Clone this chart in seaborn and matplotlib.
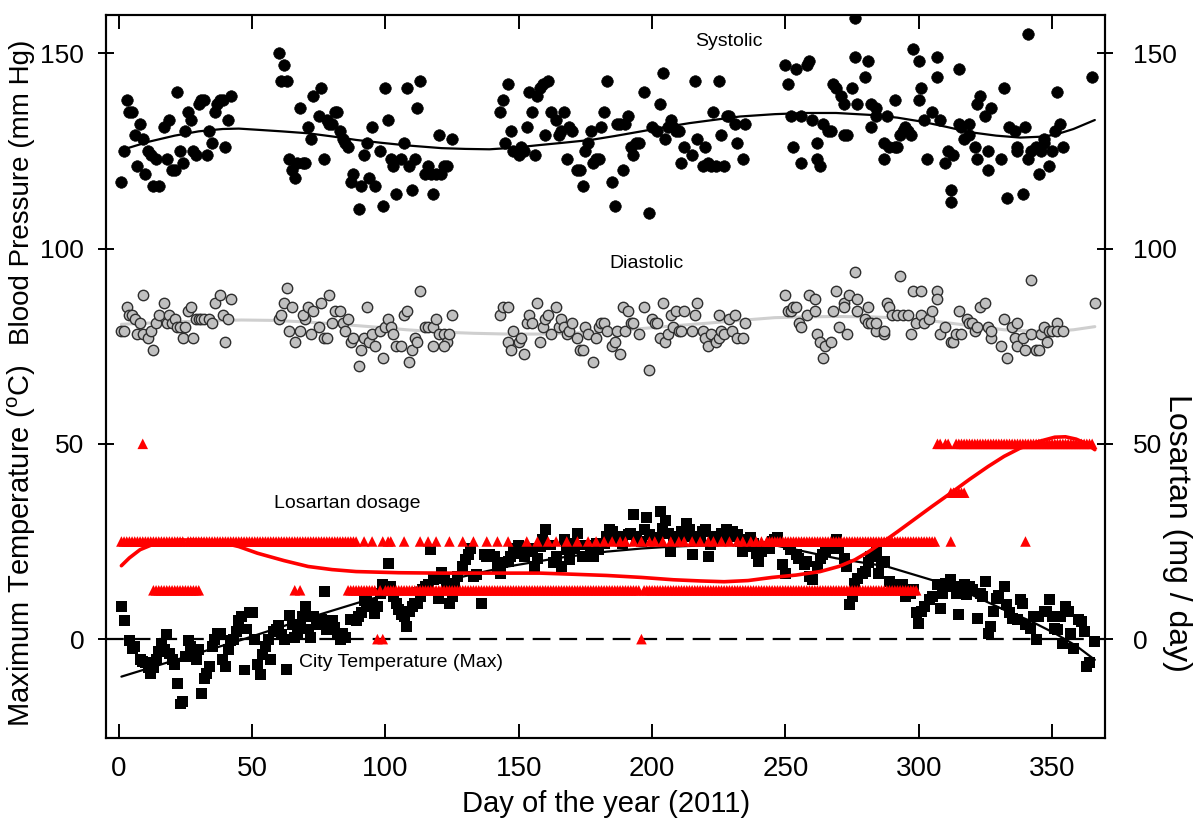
import matplotlib
matplotlib.use("Agg")
import matplotlib.pyplot as plt
import seaborn as sns

# ---------------------------------------------------------------------------
# Data (day of year 2011)
# ---------------------------------------------------------------------------

# Systolic blood pressure (mm Hg)
sys_days = [1, 2, 3, 4, 5, 6, 7, 8, 9, 10, 11, 12, 14, 13, 15, 17, 18, 19, 20, 21,
            22, 23, 24, 25, 26, 27, 28, 29, 30, 31, 32, 33, 34, 35, 36, 37, 38, 39, 40, 41,
            42, 60, 62, 61, 63, 64, 65, 66, 67, 69, 70, 68, 71, 72, 73, 75, 76, 77, 78, 79,
            80, 81, 82, 83, 84, 85, 86, 87, 88, 90, 91, 92, 93, 94, 96, 95, 98, 99, 100, 101,
            102, 103, 104, 106, 107, 108, 109, 110, 111, 112, 113, 115, 116, 117, 119, 118, 120, 122, 123, 121,
            125, 143, 144, 146, 145, 147, 148, 150, 151, 152, 153, 154, 157, 158, 159, 161, 155, 156, 160, 162,
            164, 165, 166, 167, 168, 169, 170, 172, 173, 174, 175, 176, 178, 179, 180, 177, 181, 182, 183, 185,
            186, 187, 188, 190, 191, 189, 192, 193, 194, 195, 197, 199, 200, 202, 203, 204, 205, 206, 207, 208,
            209, 210, 211, 212, 215, 217, 216, 219, 220, 221, 222, 224, 227, 223, 225, 226, 228, 229, 231, 232,
            234, 235,
            250, 251, 252, 253, 254, 256, 256, 258, 259, 260, 262, 262, 263, 264, 266, 267, 268, 269, 271, 272,
            272, 273, 275, 276, 277, 280, 281, 282, 282, 284, 284, 287, 287, 288, 289, 291, 291, 292, 293, 294,
            295, 296, 297, 298, 300, 300, 301, 302, 303, 305, 307, 307, 308, 310, 311, 312, 312, 313, 315, 315,
            316, 317, 319, 319, 321, 322, 323, 322, 325, 326, 326, 327, 331, 332, 333, 334, 336, 337, 337, 339,
            340, 341, 341, 342, 344, 345, 346, 347, 347, 349, 350, 351, 352, 353, 354, 365, 276]
sys_vals = [117, 125, 138, 135, 135, 129, 121, 132, 128, 119, 125, 124, 123, 116, 116, 131, 123, 133, 120, 120,
            140, 125, 122, 130, 135, 133, 125, 124, 137, 138, 138, 124, 130, 127, 135, 137, 138, 138, 126, 133,
            139, 150, 147, 143, 143, 123, 120, 118, 122, 122, 122, 136, 131, 128, 139, 134, 141, 123, 133, 132,
            132, 135, 135, 130, 128, 127, 126, 117, 119, 110, 116, 124, 127, 118, 116, 131, 125, 111, 141, 133,
            123, 121, 114, 123, 127, 141, 121, 115, 123, 136, 143, 119, 121, 119, 119, 114, 129, 121, 121, 119,
            128, 135, 138, 142, 127, 130, 125, 124, 126, 125, 131, 140, 139, 141, 142, 143, 135, 124, 129, 135,
            133, 129, 130, 135, 123, 131, 130, 120, 120, 116, 125, 127, 122, 123, 123, 130, 131, 135, 143, 117,
            111, 132, 132, 132, 134, 120, 126, 124, 127, 127, 140, 109, 131, 130, 137, 145, 128, 131, 133, 131,
            130, 130, 122, 126, 124, 128, 143, 121, 126, 122, 121, 121, 121, 135, 143, 129, 134, 134, 132, 127,
            123, 132,
            147, 142, 134, 126, 146, 134, 122, 147, 148, 133, 127, 123, 121, 132, 130, 130, 142, 141, 139, 137,
            129, 129, 141, 149, 137, 144, 148, 131, 137, 136, 134, 127, 123, 134, 126, 138, 126, 126, 129, 130,
            131, 130, 129, 151, 138, 148, 141, 133, 123, 135, 149, 144, 133, 122, 125, 112, 115, 124, 132, 146,
            131, 128, 132, 129, 126, 123, 139, 137, 134, 125, 120, 136, 123, 141, 113, 131, 130, 125, 126, 114,
            131, 123, 155, 125, 126, 119, 125, 127, 128, 121, 125, 130, 140, 132, 126, 144, 159]

# Diastolic blood pressure (mm Hg)
dia_days = [1, 2, 3, 4, 5, 6, 8, 7, 9, 9, 11, 12, 13, 14, 15, 17, 18, 19, 20, 21,
            22, 23, 25, 24, 28, 26, 27, 29, 30, 31, 32, 34, 35, 36, 38, 39, 41, 42, 40,
            63, 60, 61, 62, 65, 64, 68, 66, 72, 70, 69, 71, 73, 75, 76, 77, 78, 79, 80, 81,
            83, 84, 85, 86, 87, 88, 91, 90, 92, 93, 94, 95, 96, 98, 99, 100, 101, 102, 103, 104,
            106, 107, 108, 109, 110, 111, 112, 113, 115, 116, 118, 119, 118, 120, 122, 123, 122, 124, 125,
            143, 144, 146, 146, 147, 148, 150, 151, 152, 153, 154, 155, 157, 158, 159, 160, 161, 162, 164,
            165, 166, 167, 168, 169, 170, 172, 173, 174, 175, 176, 178, 179, 180, 181, 182, 183, 185, 186,
            187, 188, 189, 190, 191, 192, 193, 195, 197, 199, 200, 201, 202, 203, 204, 205, 206, 207, 208,
            209, 210, 211, 212, 215, 216, 217, 219, 220, 221, 222, 224, 225, 225, 226, 227, 229, 230, 231,
            232, 234, 235,
            250, 251, 252, 253, 254, 255, 256, 258, 259, 261, 261, 262, 263, 264, 265, 267, 268, 269, 270,
            272, 272, 273, 274, 276, 277, 277, 280, 281, 281, 282, 284, 284, 287, 287, 288, 289, 290, 292,
            293, 294, 296, 297, 298, 299, 301, 301, 302, 304, 305, 307, 307, 308, 310, 312, 313, 314, 315,
            316, 318, 319, 320, 321, 322, 323, 325, 326, 327, 327, 331, 332, 333, 335, 336, 337, 337, 339,
            340, 342, 342, 344, 345, 346, 347, 348, 349, 350, 352, 352, 354, 366]
dia_vals = [79, 79, 85, 83, 83, 82, 81, 78, 78, 88, 77, 79, 74, 81, 83, 86, 81, 83, 81, 82,
            80, 80, 80, 77, 77, 84, 85, 82, 82, 82, 82, 82, 81, 86, 88, 83, 82, 87, 76,
            90, 82, 83, 86, 85, 79, 79, 76, 78, 82, 83, 85, 84, 80, 86, 77, 77, 88, 81, 84,
            84, 81, 79, 82, 76, 77, 74, 70, 77, 85, 76, 78, 75, 79, 72, 80, 82, 80, 78, 75,
            75, 83, 84, 71, 74, 77, 76, 89, 80, 80, 80, 82, 75, 78, 78, 76, 75, 78, 83,
            83, 85, 85, 76, 74, 79, 76, 77, 73, 81, 83, 81, 86, 76, 80, 82, 83, 78, 85,
            80, 82, 80, 78, 79, 81, 77, 74, 74, 80, 78, 71, 77, 80, 81, 81, 79, 75, 76,
            79, 73, 85, 79, 84, 81, 81, 78, 85, 69, 82, 81, 81, 77, 86, 76, 78, 83, 80,
            84, 79, 79, 84, 79, 83, 86, 79, 77, 75, 78, 76, 77, 83, 79, 78, 82, 79, 83,
            77, 77, 81,
            88, 84, 84, 85, 85, 81, 80, 83, 88, 84, 87, 78, 76, 72, 75, 76, 84, 89, 80,
            86, 85, 78, 88, 94, 84, 87, 82, 85, 81, 81, 79, 81, 78, 79, 86, 85, 83, 83,
            93, 83, 83, 78, 89, 81, 83, 89, 81, 82, 84, 89, 87, 78, 80, 76, 76, 78, 84,
            78, 82, 81, 81, 79, 80, 85, 86, 80, 77, 79, 75, 82, 72, 80, 77, 75, 81, 77,
            74, 92, 78, 74, 74, 78, 80, 76, 79, 79, 81, 79, 79, 86]

# City maximum temperature (deg C)
temp_days = [1, 2, 4, 5, 6, 8, 9, 10, 11, 12, 13, 14, 15, 16, 17, 18, 19, 20, 21, 22,
             23, 24, 25, 26, 27, 28, 29, 30, 31, 32, 33, 34, 35, 36, 37, 38, 39, 40, 41, 42,
             43, 44, 45, 46, 47, 48, 49, 50, 51, 52, 53, 54, 55, 56, 57, 58, 59, 60, 61, 62,
             63, 64, 65, 66, 67, 68, 69, 70, 71, 72, 73, 74, 75, 76, 77, 78, 79, 80, 81, 82,
             83, 84, 85, 87, 88, 89, 90, 91, 92, 93, 94, 95, 96, 97, 98, 99, 100, 101, 102, 103,
             104, 105, 106, 107, 108, 109, 110, 111, 112, 113, 114, 115, 116, 117, 118, 119, 120, 121, 122, 123,
             124, 125, 126, 127, 129, 130, 131, 132, 133, 134, 136, 137, 138, 139, 141, 142, 143, 144, 146, 147,
             148, 149, 150, 151, 152, 154, 155, 156, 157, 158, 159, 160, 162, 163, 164, 166, 167, 168, 169, 170,
             171, 172, 173, 174, 176, 177, 178, 179, 180, 182, 183, 184, 185, 186, 187, 189, 191, 192, 193, 194,
             196, 197, 198, 199, 201, 202, 203, 204, 205, 206, 207, 208, 209, 210, 211, 212, 213, 214, 215, 216,
             217, 218, 219, 220, 221, 222, 223, 224, 226, 227, 228, 229, 230, 231, 232, 233, 234, 235, 236, 237,
             238, 239, 240, 241, 242, 244, 245, 246, 247, 249, 250, 251, 252, 254, 255, 257, 258, 259, 260, 262,
             263, 264, 265, 267, 268, 269, 270, 272, 273, 274, 275, 276, 277, 279, 280, 281, 282, 284, 285, 286,
             287, 289, 290, 292, 294, 295, 297, 298, 299, 300, 301, 302, 304, 305, 307, 308, 309, 310, 312, 313,
             314, 315, 317, 318, 319, 320, 322, 323, 324, 325, 326, 327, 328, 329, 330, 332, 333, 334, 335, 337,
             338, 339, 340, 342, 343, 344, 345, 347, 348, 349, 350, 351, 352, 353, 354, 355, 356, 357, 358, 360,
             361, 362, 363, 364, 366]
temp_vals = [8.4, 4.8, -0.3, -2.3, -1.9, -5.1, -5.7, -6.1, -7.2, -8.7, -7.2, -5.3, -3.2, -1.0, -2.7, 1.1, -3.6, -5.3, -6.6, -11.3,
             -16.6, -16.0, -4.4, -0.3, -1.9, -3.4, -5.3, -2.6, -14.0, -10.0, -8.7, -7.0, -2.0, -0.2, 1.4, 1.5, -5.3, -7.0, -2.7, -0.3,
             0.0, 2.0, 4.8, 5.8, -7.9, 2.6, 6.7, 6.8, -0.2, -6.6, -9.1, -4.0, -1.9, -0.2, -5.3, 2.0, 2.6, 3.4, 1.1, 0.0,
             -7.7, 6.0, 3.7, 0.3, 1.4, 3.2, 5.8, 8.4, 2.6, 0.3, 5.8, 4.5, 3.7, 5.1, 12.2, 2.4, 3.1, 4.8, 3.1, 1.5,
             0.0, 1.4, 0.3, 5.0, 5.1, 4.8, 5.8, 6.7, 9.9, 9.6, 8.4, 9.2, 6.5, 8.4, 11.8, 13.9, 12.8, 19.3, 13.5, 10.9,
             9.2, 7.5, 6.2, 5.8, 3.2, 7.1, 8.4, 9.2, 9.0, 10.9, 12.8, 13.6, 13.9, 22.9, 15.2, 15.6, 10.5, 17.1, 15.6, 14.3,
             9.2, 10.9, 13.9, 16.0, 18.6, 20.3, 21.6, 23.3, 16.0, 16.5, 9.2, 21.6, 21.2, 21.6, 21.2, 18.6, 16.9, 19.5, 19.9, 21.2,
             23.3, 23.3, 24.1, 22.0, 21.2, 23.3, 22.4, 18.6, 20.7, 23.7, 25.4, 28.0, 24.1, 19.5, 21.2, 18.6, 25.4, 22.9, 20.3, 24.6,
             23.3, 27.1, 24.1, 21.2, 24.1, 23.3, 21.2, 24.6, 22.9, 24.6, 26.3, 28.0, 27.6, 25.4, 26.3, 24.6, 26.7, 27.1, 31.8, 26.3,
             25.0, 28.0, 31.2, 26.7, 25.9, 25.4, 32.7, 28.4, 30.4, 27.1, 22.4, 26.3, 25.0, 25.9, 27.6, 26.3, 29.7, 28.0, 21.6, 25.9,
             26.3, 25.4, 27.6, 28.0, 21.2, 24.1, 26.3, 25.4, 27.1, 25.4, 28.0, 26.3, 27.6, 26.3, 26.7, 25.0, 22.4, 25.4, 23.7, 25.9,
             24.6, 22.0, 19.9, 22.4, 23.7, 23.3, 25.0, 25.4, 25.9, 19.0, 16.9, 24.1, 22.9, 21.6, 20.7, 19.0, 19.9, 16.0, 15.2, 18.6,
             20.7, 21.6, 22.4, 23.3, 23.7, 25.4, 23.3, 20.7, 18.6, 8.8, 10.9, 14.3, 15.6, 16.9, 17.3, 19.5, 21.2, 22.4, 16.9, 19.5,
             19.9, 14.7, 13.9, 13.5, 13.9, 10.9, 11.8, 12.6, 6.7, 4.1, 7.1, 8.4, 10.1, 10.9, 13.9, 7.9, 11.8, 14.3, 15.2, 13.5,
             11.8, 6.2, 13.9, 11.3, 13.5, 12.6, 5.4, 11.8, 10.9, 14.7, 1.5, 3.2, 7.1, 10.5, 11.3, 13.5, 8.8, 6.7, 5.4, 5.0,
             10.1, 9.2, 3.7, 2.8, 5.8, -0.2, 5.8, 7.1, 7.1, 10.1, 5.8, 2.8, 2.4, 5.8, -1.0, 8.4, 7.1, 1.5, -2.3, 5.0,
             4.5, 2.0, -7.0, -6.1, -0.6]

# Losartan dosage (mg / day): days recorded at each dose level
los_0_days = [97, 99, 196]
los_12_days = [13, 14, 15, 16, 17, 18, 19, 20, 21, 22, 23, 24, 25, 26, 27, 28, 29, 30, 66, 68,
               86, 87, 88, 89, 90, 91, 92, 93, 94, 95, 96, 98, 100, 101, 102, 103, 104, 105, 106, 107,
               108, 109, 110, 111, 112, 113, 114, 115, 116, 117, 118, 119, 120, 121, 122, 123, 124, 125, 126, 127,
               128, 129, 130, 131, 132, 133, 134, 135, 136, 137, 138, 139, 140, 141, 142, 143, 144, 145, 146, 147,
               148, 149, 150, 151, 152, 153, 154, 155, 156, 157, 158, 159, 160, 161, 162, 163, 164, 165, 166, 167,
               168, 169, 170, 171, 172, 173, 174, 175, 176, 177, 178, 179, 180, 181, 182, 183, 184, 185, 186, 187,
               188, 189, 190, 191, 192, 193, 194, 195, 197, 198, 199, 200, 201, 202, 203, 204, 205, 206, 207, 208,
               209, 210, 211, 212, 213, 214, 215, 216, 217, 218, 219, 220, 221, 222, 223, 224, 225, 226, 227, 228,
               229, 230, 231, 232, 233, 234, 235, 236, 237, 238, 239, 240, 241, 242, 243, 244, 245, 246, 247, 248,
               249, 250, 251, 252, 253, 254, 255, 256, 257, 258, 259, 260, 261, 262, 263, 264, 265, 266, 267, 268,
               269, 270, 271, 272, 273, 274, 275, 276, 277, 278, 279, 280, 281, 282, 283, 284, 285, 286, 287, 288,
               289, 290, 291, 292, 293, 294, 295, 296, 297, 298, 299]
los_25_days = [1, 2, 3, 4, 5, 6, 7, 8, 9, 10, 11, 12, 13, 14, 15, 16, 17, 18, 19, 20,
               21, 22, 23, 24, 26, 27, 28, 29, 30, 31, 32, 33, 34, 35, 36, 37, 38, 39, 40, 41,
               42, 43, 44, 45, 46, 47, 48, 49, 50, 51, 52, 53, 54, 55, 56, 57, 58, 59, 60, 61,
               62, 63, 64, 65, 66, 67, 68, 69, 70, 71, 72, 73, 74, 75, 76, 77, 78, 79, 80, 81,
               82, 83, 84, 85, 86, 87, 88, 89, 92, 95, 99, 101, 102, 107, 113, 116, 119, 124, 129, 133,
               138, 142, 146, 153, 157, 161, 164, 168, 172, 176, 179, 182, 185, 188, 190, 193, 196, 199, 201, 204,
               207, 210, 212, 215, 218, 221, 223, 226, 229, 232, 234, 237, 239, 241, 243, 244, 245, 246, 247, 248,
               249, 250, 251, 252, 253, 254, 255, 256, 257, 258, 259, 260, 261, 262, 263, 264, 265, 266, 267, 268,
               269, 270, 271, 272, 273, 274, 275, 276, 277, 278, 279, 280, 281, 282, 283, 284, 285, 286, 287, 288,
               289, 290, 291, 292, 293, 294, 295, 296, 297, 298, 299, 300, 301, 302, 303, 304, 305, 306, 312, 340]
los_37_days = [312, 313, 314, 315, 316, 317]
los_50_days = [9, 307, 308, 310, 311, 314, 315, 316, 317, 318, 319, 320, 321, 322, 323, 324, 325, 326, 327, 328,
               329, 330, 331, 332, 333, 334, 335, 336, 337, 338, 339, 340, 341, 342, 343, 344, 345, 346, 347, 348,
               349, 350, 351, 352, 353, 354, 355, 356, 357, 358, 359, 360, 361, 362, 363, 364, 365]

# Smoothed trend curves as drawn on the chart
sys_fit_days = [1, 11, 21, 30, 39, 45, 52, 61, 71, 80, 89, 98, 108, 121, 130, 139, 148, 158, 167, 177, 186,
                196, 205, 214, 224, 233, 246, 258, 269, 282, 292, 301, 310, 319, 329, 338, 345, 351, 358, 366]
sys_fit_vals = [125.2, 127.3, 128.9, 130.0, 130.6, 130.7, 130.4, 130.0, 129.5, 128.7, 127.8, 127.1, 126.4, 125.7,
                125.5, 125.4, 125.8, 126.5, 127.1, 127.8, 128.8, 130.0, 131.1, 132.1, 133.0, 133.8, 134.4, 134.7,
                134.7, 134.2, 133.5, 132.5, 131.2, 129.8, 128.9, 128.4, 128.6, 129.1, 130.6, 132.9]
dia_fit_days = [1, 20, 46, 58, 70, 83, 96, 108, 121, 133, 146, 158, 170, 183, 196, 208, 221, 233, 246, 258, 269,
                282, 294, 307, 320, 332, 341, 350, 358, 366]
dia_fit_vals = [80.6, 81.2, 81.7, 81.6, 81.2, 80.6, 79.9, 79.2, 78.6, 78.3, 78.1, 78.1, 78.3, 78.8, 79.5, 80.2,
                80.9, 81.6, 82.3, 82.5, 82.6, 82.5, 82.2, 81.3, 80.2, 79.2, 78.9, 78.8, 79.2, 80.0]
temp_fit_days = [1, 21, 46, 71, 93, 108, 121, 134, 146, 165, 183, 196, 208, 220, 233, 244, 256, 269, 288, 307,
                 320, 332, 342, 351, 359, 366]
temp_fit_vals = [-9.6, -5.4, -0.2, 5.4, 10.0, 12.6, 14.7, 16.8, 18.6, 20.8, 22.4, 23.2, 23.7, 24.0, 24.1, 24.3,
                 22.6, 20.7, 18.6, 14.7, 11.3, 7.5, 4.6, 1.5, -1.7, -5.3]
los_fit_days = [1, 4, 8, 14, 19, 24, 31, 37, 45, 52, 62, 71, 80, 89, 105, 121, 140, 158, 171, 183, 196, 208,
                218, 227, 236, 245, 254, 263, 270, 276, 281, 286, 292, 298, 305, 312, 319, 326, 332, 338, 345,
                351, 355, 359, 363, 366]
los_fit_vals = [18.8, 20.8, 22.9, 24.6, 25.1, 25.4, 25.3, 25.0, 23.7, 22.0, 20.1, 18.6, 17.8, 17.3, 17.0, 16.9,
                16.9, 16.9, 16.6, 16.3, 15.8, 15.2, 14.9, 14.7, 15.0, 15.8, 16.4, 17.3, 18.6, 20.3, 22.3, 24.6,
                27.5, 30.5, 34.0, 37.4, 40.9, 44.2, 46.8, 48.9, 50.6, 51.7, 51.8, 51.2, 50.0, 48.5]

tick_values = [0, 50, 100, 150]

# ---------------------------------------------------------------------------
# Style
# ---------------------------------------------------------------------------
sns.set_style("white")
plt.rcParams['font.family'] = ['Liberation Sans', 'DejaVu Sans']
plt.rcParams['mathtext.fontset'] = 'custom'
plt.rcParams['mathtext.rm'] = 'Liberation Sans'
plt.rcParams['text.color'] = 'black'
plt.rcParams['axes.labelcolor'] = 'black'

RED = '#ff0000'

fig = plt.figure(figsize=(12.03, 8.25), dpi=100)
ax = fig.add_axes([0.0885, 0.1055, 0.830, 0.8764])
ax2 = ax.twinx()

# Temperature
sns.scatterplot(x=temp_days, y=temp_vals, marker='s', s=62, color='black',
                edgecolor='none', linewidth=0, ax=ax, zorder=2)
sns.lineplot(x=temp_fit_days, y=temp_fit_vals, color='black', linewidth=1.6,
             estimator=None, ax=ax, zorder=3)
ax.axhline(0, color='black', linewidth=1.6, linestyle=(0, (8, 4)), zorder=1)

# Blood pressure
sns.scatterplot(x=sys_days, y=sys_vals, marker='o', s=70, color='black',
                edgecolor='black', linewidth=0.4, ax=ax, zorder=2)
sns.lineplot(x=sys_fit_days, y=sys_fit_vals, color='black', linewidth=1.6,
             estimator=None, ax=ax, zorder=3)
sns.lineplot(x=dia_fit_days, y=dia_fit_vals, color='#cfcfcf', linewidth=2.2,
             estimator=None, ax=ax, zorder=1.5)
sns.scatterplot(x=dia_days, y=dia_vals, marker='o', s=56, color='#c0c0c0',
                edgecolor='#2e2e2e', linewidth=1.0, ax=ax, zorder=2)

# Losartan on the right axis
for days, dose in [(los_0_days, 0), (los_12_days, 12.5), (los_25_days, 25),
                   (los_37_days, 37.5), (los_50_days, 50)]:
    sns.scatterplot(x=days, y=[dose] * len(days), marker='^', s=58, color=RED,
                    edgecolor='none', linewidth=0, ax=ax2, zorder=2)
sns.lineplot(x=los_fit_days, y=los_fit_vals, color=RED, linewidth=2.6,
             estimator=None, ax=ax2, zorder=3)

# Axes limits and ticks
for a in (ax, ax2):
    a.set_xlim(-4.6, 369.8)
    a.set_ylim(-25.3, 159.8)
    a.set_yticks(tick_values)
    a.set_xlabel('')
    a.set_ylabel('')
    for sp in a.spines.values():
        sp.set_color('black')
        sp.set_linewidth(1.5)

ax.set_xticks([0, 50, 100, 150, 200, 250, 300, 350])
ax.tick_params(axis='x', which='both', direction='in', length=10, width=1.4,
               top=True, bottom=True, labelsize=20, pad=13, colors='black')
ax.tick_params(axis='y', direction='inout', length=12, width=1.4, left=True,
               right=False, labelsize=19, pad=10, colors='black')
ax2.tick_params(axis='y', direction='inout', length=12, width=1.4, right=True,
                labelsize=19, pad=14, colors='black')
ax.set_xticklabels(['0', '50', '100', '150', '200', '250', '300', '350'])

# Axis titles
ax.text(-0.085, 0.755, 'Blood Pressure (mm Hg)', transform=ax.transAxes,
        rotation=90, ha='center', va='center', fontsize=20)
ax.text(-0.085, 0.265, r'Maximum Temperature ($\mathregular{^{o}}$C)', transform=ax.transAxes,
        rotation=90, ha='center', va='center', fontsize=21)
ax2.text(1.072, 0.284, 'Losartan (mg / day)', transform=ax.transAxes,
         rotation=270, ha='center', va='center', fontsize=23)
ax.text(0.5, -0.092, 'Day of the year (2011)', transform=ax.transAxes,
        ha='center', va='center', fontsize=21)

# In-plot annotations
ax.text(228.6, 152.9, 'Systolic', ha='center', va='center', fontsize=14)
ax.text(198, 96.1, 'Diastolic', ha='center', va='center', fontsize=14)
ax.text(85.6, 34.8, 'Losartan dosage', ha='center', va='center', fontsize=14)
ax.text(105.9, -6.0, 'City Temperature (Max)', ha='center', va='center', fontsize=14)

fig.savefig('out.png', dpi=100)
